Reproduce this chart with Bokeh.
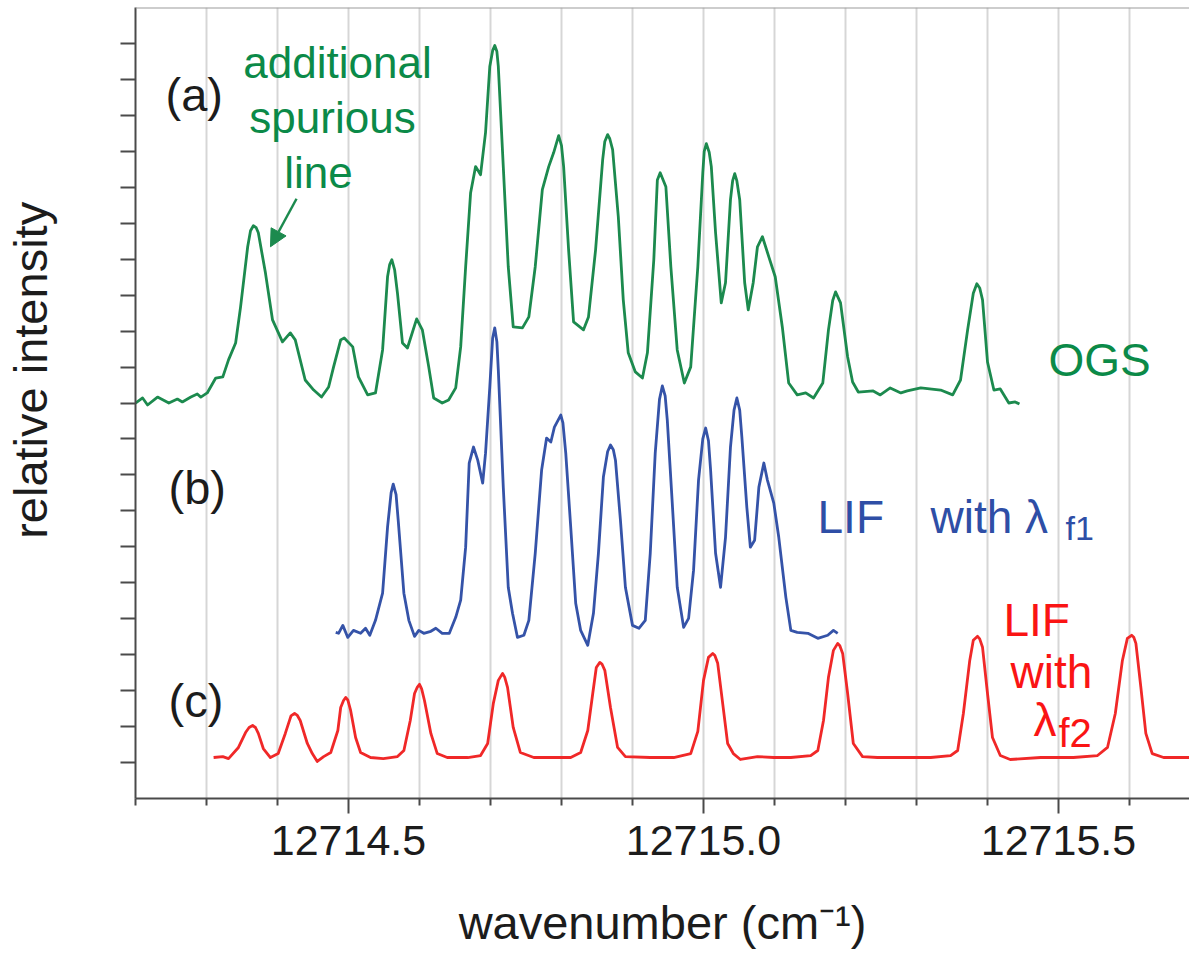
from bokeh.plotting import figure
from bokeh.models import FixedTicker, PrintfTickFormatter, Label, Arrow, NormalHead, Span
from bokeh.embed import file_html
from bokeh.resources import INLINE

# ---------------- data ----------------
x_major = [12714.5, 12715.0, 12715.5]
x_minor = [12714.2, 12714.3, 12714.4, 12714.6, 12714.7, 12714.8, 12714.9,
           12715.1, 12715.2, 12715.3, 12715.4, 12715.6]
x_grid = [12714.3, 12714.4, 12714.5, 12714.6, 12714.7, 12714.8, 12714.9, 12715.0,
          12715.1, 12715.2, 12715.3, 12715.4, 12715.5, 12715.6]
y_major = [0, 1, 2, 3, 4]
y_minor = [0.2, 0.4, 0.6, 0.8, 1.2, 1.4, 1.6, 1.8, 2.2, 2.4, 2.6, 2.8,
           3.2, 3.4, 3.6, 3.8]

# (a) OGS spectrum (offset trace, green)
green_wn = [
    12714.200, 12714.210, 12714.217, 12714.231, 12714.247, 12714.259, 12714.266, 12714.278, 12714.287, 12714.292,
    12714.301, 12714.313, 12714.323, 12714.331, 12714.341, 12714.348, 12714.358, 12714.362, 12714.366, 12714.370,
    12714.373, 12714.383, 12714.393, 12714.407, 12714.418, 12714.425, 12714.439, 12714.451, 12714.462, 12714.472,
    12714.479, 12714.489, 12714.494, 12714.506, 12714.514, 12714.527, 12714.538, 12714.548, 12714.555, 12714.558,
    12714.561, 12714.565, 12714.569, 12714.576, 12714.583, 12714.596, 12714.604, 12714.613, 12714.620, 12714.632,
    12714.641, 12714.651, 12714.658, 12714.665, 12714.672, 12714.679, 12714.686, 12714.693, 12714.699, 12714.703,
    12714.706, 12714.709, 12714.711, 12714.718, 12714.725, 12714.732, 12714.745, 12714.754, 12714.763, 12714.773,
    12714.782, 12714.789, 12714.796, 12714.800, 12714.803, 12714.810, 12714.817, 12714.831, 12714.838, 12714.848,
    12714.858, 12714.861, 12714.865, 12714.868, 12714.872, 12714.880, 12714.887, 12714.894, 12714.904, 12714.914,
    12714.921, 12714.930, 12714.935, 12714.939, 12714.947, 12714.954, 12714.963, 12714.973, 12714.982, 12714.992,
    12714.999, 12715.001, 12715.004, 12715.008, 12715.011, 12715.017, 12715.025, 12715.031, 12715.038, 12715.041,
    12715.044, 12715.047, 12715.051, 12715.058, 12715.063, 12715.070, 12715.076, 12715.083, 12715.092, 12715.101,
    12715.111, 12715.120, 12715.132, 12715.144, 12715.155, 12715.168, 12715.176, 12715.182, 12715.186, 12715.193,
    12715.203, 12715.210, 12715.218, 12715.239, 12715.249, 12715.263, 12715.278, 12715.287, 12715.306, 12715.334,
    12715.351, 12715.362, 12715.372, 12715.380, 12715.385, 12715.389, 12715.393, 12715.400, 12715.409, 12715.418,
    12715.430, 12715.439, 12715.445]
green_y = [
    2.000, 2.028, 1.989, 2.033, 2.000, 2.022, 2.006, 2.033, 2.050, 2.033,
    2.056, 2.139, 2.145, 2.240, 2.334, 2.535, 2.869, 2.958, 2.986, 2.975,
    2.947, 2.724, 2.462, 2.340, 2.390, 2.351, 2.128, 2.072, 2.033, 2.089,
    2.201, 2.351, 2.362, 2.312, 2.145, 2.045, 2.056, 2.295, 2.702, 2.770,
    2.797, 2.740, 2.610, 2.334, 2.306, 2.468, 2.407, 2.201, 2.028, 2.000,
    2.017, 2.084, 2.312, 2.758, 3.170, 3.315, 3.270, 3.504, 3.872, 3.960,
    3.989, 3.955, 3.872, 3.315, 2.758, 2.423, 2.418, 2.479, 2.758, 3.187,
    3.315, 3.393, 3.487, 3.432, 3.315, 2.852, 2.451, 2.407, 2.479, 2.852,
    3.354, 3.455, 3.493, 3.470, 3.409, 3.036, 2.574, 2.279, 2.173, 2.139,
    2.279, 2.797, 3.240, 3.281, 3.203, 2.758, 2.295, 2.111, 2.201, 2.758,
    3.281, 3.400, 3.443, 3.395, 3.315, 2.947, 2.557, 2.669, 3.131, 3.235,
    3.276, 3.235, 3.131, 2.669, 2.518, 2.669, 2.869, 2.925, 2.813, 2.702,
    2.423, 2.111, 2.045, 2.056, 2.028, 2.111, 2.407, 2.570, 2.618, 2.557,
    2.256, 2.117, 2.061, 2.067, 2.045, 2.084, 2.056, 2.067, 2.084, 2.072,
    2.045, 2.128, 2.407, 2.610, 2.663, 2.640, 2.574, 2.228, 2.072, 2.078,
    2.000, 2.006, 1.994]

# (b) LIF with lambda_f1 (blue)
blue_wn = [
    12714.482, 12714.486, 12714.492, 12714.499, 12714.507, 12714.517, 12714.524, 12714.530, 12714.538, 12714.548,
    12714.555, 12714.560, 12714.563, 12714.567, 12714.570, 12714.578, 12714.585, 12714.593, 12714.599, 12714.606,
    12714.616, 12714.623, 12714.632, 12714.642, 12714.651, 12714.658, 12714.665, 12714.670, 12714.676, 12714.682,
    12714.689, 12714.693, 12714.699, 12714.703, 12714.706, 12714.709, 12714.711, 12714.718, 12714.725, 12714.731,
    12714.738, 12714.747, 12714.754, 12714.763, 12714.772, 12714.779, 12714.785, 12714.790, 12714.799, 12714.802,
    12714.806, 12714.813, 12714.820, 12714.827, 12714.837, 12714.845, 12714.852, 12714.859, 12714.865, 12714.869,
    12714.873, 12714.876, 12714.883, 12714.890, 12714.900, 12714.909, 12714.918, 12714.925, 12714.932, 12714.938,
    12714.942, 12714.946, 12714.949, 12714.956, 12714.963, 12714.972, 12714.979, 12714.986, 12714.993, 12714.999,
    12715.003, 12715.007, 12715.010, 12715.017, 12715.024, 12715.031, 12715.038, 12715.043, 12715.047, 12715.051,
    12715.054, 12715.061, 12715.066, 12715.072, 12715.078, 12715.085, 12715.090, 12715.099, 12715.106, 12715.116,
    12715.123, 12715.132, 12715.147, 12715.161, 12715.175, 12715.183, 12715.189]
blue_y = [
    0.724, 0.719, 0.763, 0.696, 0.735, 0.719, 0.747, 0.708, 0.791, 0.942,
    1.309, 1.500, 1.549, 1.490, 1.348, 0.942, 0.791, 0.702, 0.735, 0.719,
    0.730, 0.747, 0.719, 0.719, 0.808, 0.903, 1.198, 1.666, 1.755, 1.682,
    1.554, 1.721, 2.089, 2.360, 2.418, 2.340, 2.184, 1.532, 0.975, 0.830,
    0.696, 0.708, 0.791, 1.164, 1.627, 1.805, 1.783, 1.866, 1.933, 1.890,
    1.721, 1.309, 0.886, 0.735, 0.652, 0.830, 1.164, 1.588, 1.730, 1.766,
    1.740, 1.682, 1.348, 0.975, 0.763, 0.747, 0.791, 1.164, 1.721, 2.020,
    2.095, 2.040, 1.905, 1.443, 0.975, 0.752, 0.802, 1.070, 1.571, 1.800,
    1.861, 1.790, 1.627, 1.164, 0.975, 1.253, 1.755, 1.960, 2.028, 1.960,
    1.811, 1.421, 1.198, 1.237, 1.532, 1.666, 1.571, 1.443, 1.253, 0.919,
    0.735, 0.724, 0.719, 0.691, 0.708, 0.735, 0.719]

# (c) LIF with lambda_f2 (red)
red_wn = [
    12714.310, 12714.323, 12714.331, 12714.345, 12714.355, 12714.360, 12714.365, 12714.369, 12714.373, 12714.380,
    12714.390, 12714.401, 12714.411, 12714.419, 12714.424, 12714.428, 12714.432, 12714.442, 12714.449, 12714.456,
    12714.465, 12714.475, 12714.485, 12714.489, 12714.493, 12714.496, 12714.499, 12714.503, 12714.510, 12714.517,
    12714.531, 12714.549, 12714.569, 12714.578, 12714.587, 12714.593, 12714.597, 12714.600, 12714.603, 12714.607,
    12714.616, 12714.625, 12714.639, 12714.668, 12714.686, 12714.696, 12714.704, 12714.711, 12714.717, 12714.720,
    12714.724, 12714.732, 12714.742, 12714.761, 12714.785, 12714.813, 12714.827, 12714.837, 12714.844, 12714.849,
    12714.854, 12714.857, 12714.861, 12714.869, 12714.879, 12714.890, 12714.925, 12714.958, 12714.982, 12714.992,
    12715.000, 12715.007, 12715.013, 12715.016, 12715.020, 12715.027, 12715.034, 12715.042, 12715.052, 12715.076,
    12715.099, 12715.123, 12715.151, 12715.161, 12715.169, 12715.176, 12715.183, 12715.189, 12715.192, 12715.196,
    12715.203, 12715.211, 12715.224, 12715.245, 12715.287, 12715.320, 12715.348, 12715.358, 12715.366, 12715.375,
    12715.380, 12715.386, 12715.389, 12715.393, 12715.400, 12715.407, 12715.418, 12715.432, 12715.475, 12715.521,
    12715.555, 12715.569, 12715.580, 12715.590, 12715.597, 12715.603, 12715.606, 12715.609, 12715.616, 12715.623,
    12715.632, 12715.648, 12715.684]
red_y = [
    0.028, 0.033, 0.022, 0.084, 0.167, 0.195, 0.206, 0.195, 0.162, 0.078,
    0.028, 0.050, 0.162, 0.260, 0.273, 0.262, 0.234, 0.106, 0.050, 0.006,
    0.033, 0.056, 0.178, 0.306, 0.345, 0.362, 0.348, 0.290, 0.139, 0.056,
    0.028, 0.022, 0.033, 0.067, 0.234, 0.384, 0.420, 0.435, 0.410, 0.345,
    0.162, 0.050, 0.028, 0.028, 0.039, 0.106, 0.329, 0.457, 0.496, 0.475,
    0.418, 0.195, 0.056, 0.028, 0.028, 0.028, 0.056, 0.178, 0.384, 0.529,
    0.557, 0.548, 0.513, 0.306, 0.084, 0.033, 0.028, 0.028, 0.050, 0.173,
    0.457, 0.585, 0.607, 0.595, 0.552, 0.329, 0.106, 0.050, 0.017, 0.033,
    0.028, 0.028, 0.039, 0.067, 0.234, 0.474, 0.624, 0.663, 0.650, 0.607,
    0.384, 0.106, 0.033, 0.028, 0.028, 0.028, 0.039, 0.067, 0.273, 0.568,
    0.680, 0.702, 0.688, 0.641, 0.384, 0.139, 0.039, 0.017, 0.028, 0.028,
    0.039, 0.084, 0.273, 0.568, 0.691, 0.708, 0.697, 0.663, 0.418, 0.162,
    0.050, 0.028, 0.028]

GREEN_LINE = "#1c8a4e"
GREEN_TEXT = "#0b8a48"
BLUE_LINE = "#3553a8"
BLUE_TEXT = "#2e4ea6"
RED_LINE = "#f02828"
RED_TEXT = "#fa1414"
DARK = "#1c1c1c"
AXIS = "#4a4a4a"
FONT = "Liberation Sans"

# ---------------- figure ----------------
p = figure(width=1189, height=954,
           x_range=(12714.2, 12715.6845), y_range=(-0.2, 4.2),
           output_backend="svg", toolbar_location=None,
           min_border_left=135, min_border_right=0,
           min_border_top=7, min_border_bottom=156)
p.outline_line_color = None
p.background_fill_color = "white"
p.border_fill_color = "white"

# x axis
xa = p.xaxis[0]
xa.ticker = FixedTicker(ticks=x_major, minor_ticks=x_minor)
xa.formatter = PrintfTickFormatter(format="%.1f")
xa.axis_line_color = AXIS
xa.axis_line_width = 2
xa.major_tick_line_color = AXIS
xa.major_tick_line_width = 2
xa.minor_tick_line_color = AXIS
xa.minor_tick_line_width = 2
xa.major_tick_in = 0
xa.major_tick_out = 15
xa.minor_tick_in = 0
xa.minor_tick_out = 7
xa.major_label_text_font = FONT
xa.major_label_text_font_size = "43px"
xa.major_label_text_color = DARK
xa.major_label_standoff = 12
xa.axis_label = "wavenumber (cm\u207b\u00b9)"
xa.axis_label_text_font = FONT
xa.axis_label_text_font_size = "47px"
xa.axis_label_text_font_style = "normal"
xa.axis_label_text_color = DARK
xa.axis_label_standoff = 38

# y axis (no tick labels)
ya = p.yaxis[0]
ya.ticker = FixedTicker(ticks=y_major, minor_ticks=y_minor)
ya.major_label_overrides = {t: "" for t in y_major}
ya.major_label_text_font_size = "1px"
ya.axis_line_color = AXIS
ya.axis_line_width = 2
ya.major_tick_line_color = AXIS
ya.major_tick_line_width = 2
ya.minor_tick_line_color = AXIS
ya.minor_tick_line_width = 2
ya.major_tick_in = 0
ya.major_tick_out = 15
ya.minor_tick_in = 0
ya.minor_tick_out = 15
ya.axis_label = "\u00a0" * 5 + "relative intensity"
ya.axis_label_text_font = FONT
ya.axis_label_text_font_size = "47px"
ya.axis_label_text_font_style = "normal"
ya.axis_label_text_color = DARK
ya.axis_label_standoff = 64

# grid
p.xgrid.ticker = FixedTicker(ticks=x_grid)
p.xgrid.grid_line_color = "#d6d6d6"
p.xgrid.grid_line_width = 2
p.ygrid.grid_line_color = None

# top border
p.add_layout(Span(location=4.2, dimension="width", line_color="#9c9c9c", line_width=2))

# traces
p.line(green_wn, green_y, line_color=GREEN_LINE, line_width=2.8, line_join="round")
p.line(blue_wn, blue_y, line_color=BLUE_LINE, line_width=2.8, line_join="round")
p.line(red_wn, red_y, line_color=RED_LINE, line_width=2.8, line_join="round")


def lab(x, y, text, color, size, align="left"):
    p.add_layout(Label(x=x, y=y, text=text, text_color=color, text_font=FONT,
                       text_font_size=size, text_align=align,
                       text_baseline="alphabetic"))


# panel labels
lab(12714.2423, 3.716, "(a)", DARK, "47px")
lab(12714.2465, 1.532, "(b)", DARK, "47px")
lab(12714.2465, 0.345, "(c)", DARK, "47px")

# annotation of the spurious line
lab(12714.4845, 3.894, "additional", GREEN_TEXT, "44px", align="center")
lab(12714.4775, 3.588, "spurious", GREEN_TEXT, "44px", align="center")
lab(12714.4577, 3.281, "line", GREEN_TEXT, "44px", align="center")
p.add_layout(Arrow(end=NormalHead(size=17, fill_color=GREEN_LINE, line_color=GREEN_LINE),
                   x_start=12714.4268, y_start=3.136, x_end=12714.3901, y_end=2.869,
                   line_color=GREEN_LINE, line_width=2.5))

# trace names
lab(12715.4859, 2.240, "OGS", GREEN_TEXT, "46px")
lab(12715.1606, 1.365, "LIF", BLUE_TEXT, "46px")
lab(12715.3197, 1.365, "with \u03bb", BLUE_TEXT, "46px")
lab(12715.5099, 1.304, "f1", BLUE_TEXT, "34px")
lab(12715.4225, 0.791, "LIF", RED_TEXT, "46px")
lab(12715.4324, 0.501, "with", RED_TEXT, "46px")
lab(12715.4648, 0.234, "\u03bb", RED_TEXT, "46px")
lab(12715.5000, 0.167, "f2", RED_TEXT, "40px")

open("out.html", "w").write(file_html(p, INLINE))
